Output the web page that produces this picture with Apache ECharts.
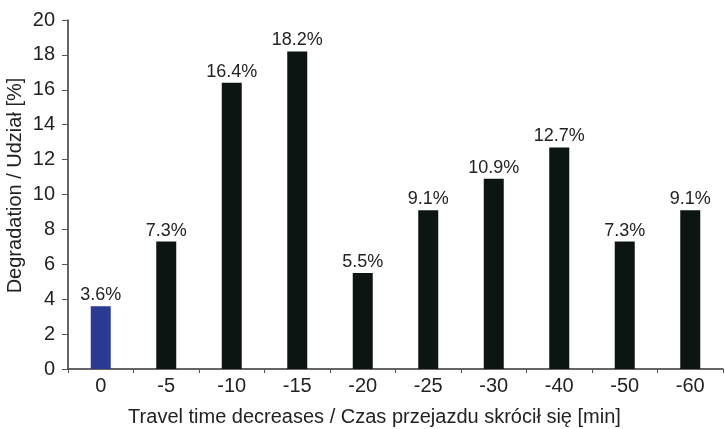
<!DOCTYPE html>
<html>
<head>
<meta charset="utf-8">
<script src="https://cdn.jsdelivr.net/npm/echarts@6/dist/echarts.min.js"></script>
<style>
  html, body { margin: 0; padding: 0; background: #fff; }
  #chart { width: 725px; height: 429px; }
</style>
</head>
<body>
<div id="chart"></div>
<script>
// categories and values
var categories = ["0", "-5", "-10", "-15", "-20", "-25", "-30", "-40", "-50", "-60"];
var shares = [3.6, 7.3, 16.4, 18.2, 5.5, 9.1, 10.9, 12.7, 7.3, 9.1];
var yTicks = [0, 2, 4, 6, 8, 10, 12, 14, 16, 18, 20];

var font = "Liberation Sans, Arial, sans-serif";
var myChart = echarts.init(document.getElementById("chart"), null, { renderer: "canvas" });

myChart.setOption({
  animation: false,
  backgroundColor: "#ffffff",
  grid: { left: 68, right: 2, top: 20, bottom: 60, outerBoundsMode: "none" },
  xAxis: {
    type: "category",
    data: categories,
    name: "Travel time decreases / Czas przejazdu skrócił się [min]",
    nameLocation: "middle",
    nameGap: 38,
    nameMoveOverlap: false,
    nameTextStyle: { fontFamily: font, fontSize: 20, color: "#222", padding: [0, 42, 0, 0] },
    axisLine: { lineStyle: { color: "#333", width: 1.5 } },
    axisTick: { show: true, length: 4, lineStyle: { color: "#555" } },
    axisLabel: { fontFamily: font, fontSize: 20, color: "#222", margin: 7 }
  },
  yAxis: {
    type: "value",
    min: yTicks[0],
    max: yTicks[yTicks.length - 1],
    interval: 2,
    name: "Degradation / Udział [%]",
    nameLocation: "middle",
    nameRotate: 90,
    nameGap: 43,
    nameMoveOverlap: false,
    nameTextStyle: { fontFamily: font, fontSize: 20, color: "#222", padding: [0, 0, 0, 18] },
    splitLine: { show: false },
    axisLine: { show: true, lineStyle: { color: "#333", width: 1.5 } },
    axisTick: { show: true, length: 6, lineStyle: { color: "#555" } },
    axisLabel: { fontFamily: font, fontSize: 20, color: "#222", margin: 13 }
  },
  series: [
    {
      type: "bar",
      barWidth: 20,
      data: shares.map(function (v, i) {
        return { value: v, itemStyle: { color: i === 0 ? "#2b3a92" : "#0c1512" } };
      }),
      label: {
        show: true,
        position: "top",
        distance: 2,
        fontFamily: font,
        fontSize: 18,
        color: "#222",
        formatter: function (p) { return p.value.toFixed(1) + "%"; }
      }
    }
  ]
});
</script>
</body>
</html>
